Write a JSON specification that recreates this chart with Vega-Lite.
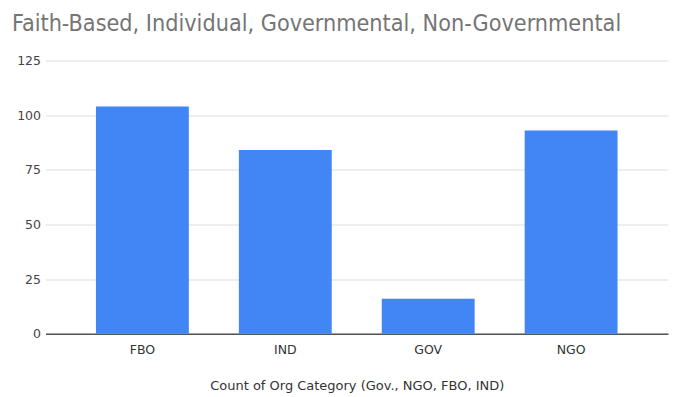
{
  "$schema": "https://vega.github.io/schema/vega-lite/v6.json",
  "autosize": "none",
  "padding": {"left": 45.5, "top": 60.5, "right": 8, "bottom": 63},
  "width": 622.5,
  "height": 273.2,
  "background": "white",
  "title": {
    "text": "Faith-Based, Individual, Governmental, Non-Governmental",
    "anchor": "start",
    "frame": "group",
    "dx": -33.5,
    "orient": "top",
    "baseline": "alphabetic",
    "offset": 0,
    "font": "Liberation Sans Narrow, DejaVu Sans Condensed, Roboto",
    "fontSize": 23.2,
    "fontWeight": "normal",
    "color": "#757575"
  },
  "data": {
    "values": [
      {"cat": "FBO", "count": 104},
      {"cat": "IND", "count": 84},
      {"cat": "GOV", "count": 16},
      {"cat": "NGO", "count": 93}
    ]
  },
  "mark": {"type": "bar", "color": "#4285F4"},
  "encoding": {
    "x": {
      "field": "cat",
      "type": "nominal",
      "sort": null,
      "scale": {"paddingInner": 0.35, "paddingOuter": 0.353},
      "axis": {
        "title": "Count of Org Category (Gov., NGO, FBO, IND)",
        "labelAngle": 0,
        "labelFont": "DejaVu Sans",
        "labelFontSize": 12.5,
        "labelColor": "#333333",
        "labelPadding": 10,
        "ticks": false,
        "domainColor": "#555555",
        "domainWidth": 1.5,
        "titleFont": "DejaVu Sans",
        "titleFontSize": 13,
        "titleFontWeight": "normal",
        "titleColor": "#333333",
        "titlePadding": 23
      }
    },
    "y": {
      "field": "count",
      "type": "quantitative",
      "scale": {"domain": [0, 125]},
      "axis": {
        "title": null,
        "values": [0, 25, 50, 75, 100, 125],
        "labelFont": "DejaVu Sans",
        "labelFontSize": 12.5,
        "labelColor": "#444444",
        "labelPadding": 5,
        "ticks": false,
        "domain": false,
        "gridColor": "#dddddd",
        "gridWidth": 1
      }
    }
  },
  "config": {
    "view": {"stroke": null}
  }
}
